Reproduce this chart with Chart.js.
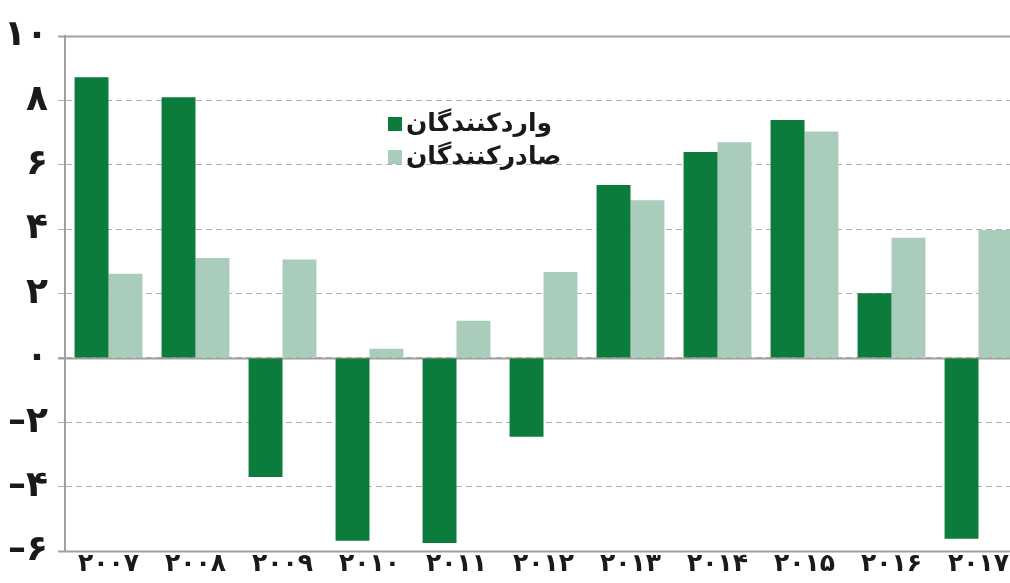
<!DOCTYPE html>
<html>
<head>
<meta charset="utf-8">
<script src="https://cdn.jsdelivr.net/npm/chart.js@4"></script>
<style>
  html, body { margin: 0; padding: 0; background: #fff; overflow: hidden; }
  #wrap { width: 1022px; height: 583px; position: relative; }
</style>
</head>
<body>
<div id="wrap"><canvas id="chart"></canvas></div>
<script>
// years (Persian digits as printed)
const years = ['۲۰۰۷', '۲۰۰۸', '۲۰۰۹', '۲۰۱۰', '۲۰۱۱', '۲۰۱۲', '۲۰۱۳', '۲۰۱۴', '۲۰۱۵', '۲۰۱۶', '۲۰۱۷'];
const importers = [8.72, 8.1, -3.7, -5.68, -5.75, -2.45, 5.37, 6.4, 7.39, 2.01, -5.62];
const exporters = [2.61, 3.1, 3.06, 0.28, 1.15, 2.67, 4.9, 6.7, 7.03, 3.73, 3.97];
const seriesNames = ['واردکنندگان', 'صادرکنندگان'];
const yTicks = [10, 8, 6, 4, 2, 0, -2, -4, -6];
const yTickLabels = ['۱۰', '۸', '۶', '۴', '۲', '۰', '–۲', '–۴', '–۶'];

const darkGreen = '#0c7c3c';
const lightGreen = '#a9cdba';

// solid lines at top, zero and bottom of the value axis
const frameLines = {
  id: 'frameLines',
  beforeDatasetsDraw(chart) {
    const { ctx, chartArea, scales } = chart;
    const y = scales.y;
    ctx.save();
    ctx.strokeStyle = '#a0a0a0';
    ctx.lineWidth = 2;
    [y.max, 0, y.min].forEach(v => {
      const py = Math.round(y.getPixelForValue(v)) + 0.5;
      ctx.beginPath();
      ctx.moveTo(chartArea.left - 7, py);
      ctx.lineTo(chartArea.right, py);
      ctx.stroke();
    });
    ctx.restore();
  }
};

// legend placed inside the plot
const innerLegend = {
  id: 'innerLegend',
  afterDraw(chart) {
    const { ctx } = chart;
    ctx.save();
    ctx.font = 'bold 25px "DejaVu Sans", sans-serif';
    ctx.textBaseline = 'middle';
    chart.data.datasets.forEach((ds, i) => {
      const cy = 124 + i * 33;
      ctx.fillStyle = ds.backgroundColor;
      ctx.fillRect(388, cy - 7, 14, 14);
      ctx.fillStyle = '#1a1a1a';
      ctx.fillText(ds.label, 406, cy);
    });
    ctx.restore();
  }
};

const ctx = document.getElementById('chart').getContext('2d');
new Chart(ctx, {
  type: 'bar',
  data: {
    labels: years,
    datasets: [
      { label: seriesNames[0], data: importers, backgroundColor: darkGreen, borderWidth: 0 },
      { label: seriesNames[1], data: exporters, backgroundColor: lightGreen, borderWidth: 0 }
    ]
  },
  options: {
    responsive: true,
    maintainAspectRatio: false,
    animation: false,
    layout: { padding: { top: 36, right: 0, left: 0, bottom: 0 } },
    datasets: { bar: { categoryPercentage: 0.78, barPercentage: 1.0 } },
    plugins: {
      legend: { display: false },
      tooltip: { enabled: false }
    },
    scales: {
      x: {
        grid: { display: false, drawTicks: false },
        border: { display: false },
        ticks: {
          color: '#1a1a1a',
          font: { family: '"DejaVu Sans", sans-serif', size: 25, weight: 'bold', lineHeight: 1 },
          padding: 1,
          maxRotation: 0
        },
        afterFit(scale) { scale.height = 32; }
      },
      y: {
        min: -6,
        max: 10,
        afterBuildTicks(scale) { scale.ticks = yTicks.map(v => ({ value: v })); },
        grid: {
          color: '#b0b0b0',
          lineWidth: 1,
          tickLength: 7,
          drawTicks: true
        },
        border: { display: true, color: '#a0a0a0', width: 2, dash: [6, 4] },
        ticks: {
          color: '#1a1a1a',
          font: { family: '"DejaVu Sans", sans-serif', size: 36, weight: 'bold' },
          padding: 10,
          callback(value) { return yTickLabels[yTicks.indexOf(value)]; }
        },
        afterFit(scale) { scale.width = 65; }
      }
    }
  },
  plugins: [frameLines, innerLegend]
});
</script>
</body>
</html>
